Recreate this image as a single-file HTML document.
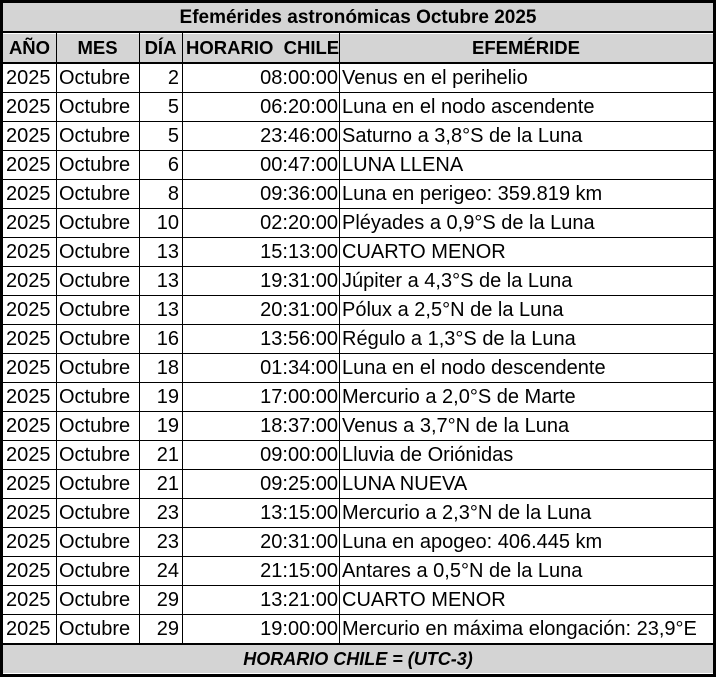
<!DOCTYPE html><html><head><meta charset="utf-8"><style>
body{margin:0;width:716px;height:677px;background:#fff;overflow:hidden;font-family:"Liberation Sans",Arial,sans-serif;}
#w{position:absolute;left:0;top:0;width:710px;height:671px;border:3px solid #000;}
.c{position:absolute;box-sizing:border-box;white-space:nowrap;font-size:20px;line-height:29px;color:#000;}
.h{background:#d4d4d4;font-weight:bold;}
.hl{position:absolute;background:#000;}
</style></head><body><div id="w"></div>
<div id="t"></div>
<script>
var rows=[["2","08:00:00","Venus en el perihelio"],["5","06:20:00","Luna en el nodo ascendente"],["5","23:46:00","Saturno a 3,8°S de la Luna"],["6","00:47:00","LUNA LLENA"],["8","09:36:00","Luna en perigeo: 359.819 km"],["10","02:20:00","Pléyades a 0,9°S de la Luna"],["13","15:13:00","CUARTO MENOR"],["13","19:31:00","Júpiter a 4,3°S de la Luna"],["13","20:31:00","Pólux a 2,5°N de la Luna"],["16","13:56:00","Régulo a 1,3°S de la Luna"],["18","01:34:00","Luna en el nodo descendente"],["19","17:00:00","Mercurio a 2,0°S de Marte"],["19","18:37:00","Venus a 3,7°N de la Luna"],["21","09:00:00","Lluvia de Oriónidas"],["21","09:25:00","LUNA NUEVA"],["23","13:15:00","Mercurio a 2,3°N de la Luna"],["23","20:31:00","Luna en apogeo: 406.445 km"],["24","21:15:00","Antares a 0,5°N de la Luna"],["29","13:21:00","CUARTO MENOR"],["29","19:00:00","Mercurio en máxima elongación: 23,9°E"]];
var h='';
function cell(x,y,w,ht,txt,al,cls,extra){h+='<div class="c '+(cls||'')+'" style="left:'+x+'px;top:'+y+'px;width:'+w+'px;height:'+ht+'px;text-align:'+al+';padding:0 4px;line-height:'+ht+'px;'+(extra||'')+'">'+txt+'</div>';}
function line(x,y,w,ht){h+='<div class="hl" style="left:'+x+'px;top:'+y+'px;width:'+w+'px;height:'+ht+'px"></div>';}
cell(3,3,710,29,'Efemérides astronómicas Octubre 2025','center','h','font-size:19px;');
var cx=[3,56,139,182,339,713];
var hd=['AÑO','MES','DÍA','HORARIO&nbsp; CHILE','EFEMÉRIDE'];
for(var i=0;i<5;i++)cell(cx[i],34,cx[i+1]-cx[i],28,hd[i],'center','h','font-size:18.5px;'+(i==0?'padding:0 1px;':''));
for(var r=0;r<20;r++){var y=64+29*r,d=rows[r];
cell(3,y,53,28,'2025','left','','padding:0 3px;');
cell(56,y,83,28,'Octubre','left','','padding:0 3px;');
cell(139,y,43,28,d[0],'right','','padding:0 3px;');
cell(182,y,157,28,d[1],'right','','padding:0 1px;');
cell(339,y,374,28,d[2],'left','','padding:0 3px;');
if(r>0)line(3,y-1,710,1);}
cell(3,645,710,28,'HORARIO CHILE = (UTC-3)','center','h','font-style:italic;font-size:18px;');
line(3,31,710,2);line(3,62,710,2);line(3,643,710,2);
for(var i=1;i<5;i++)line(cx[i],33,1,610);
document.getElementById('t').innerHTML=h;
</script></body></html>
